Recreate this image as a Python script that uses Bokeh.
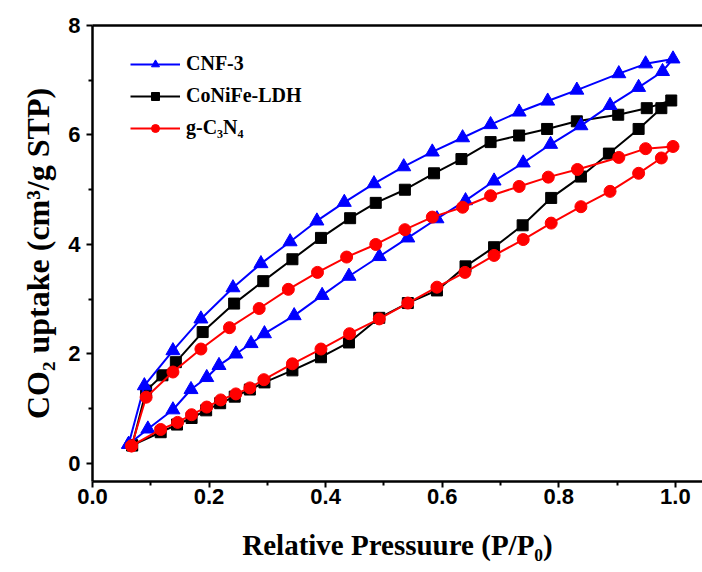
from bokeh.plotting import figure
from bokeh.models import (FixedTicker, Range1d, LinearAxis, Legend, LegendItem,
                          NumeralTickFormatter)
from bokeh.embed import file_html
from bokeh.resources import INLINE

# ---- data ----
cnf_ads_x = [0.062, 0.095, 0.138, 0.169, 0.196, 0.217, 0.246, 0.272, 0.295, 0.346, 0.394, 0.440,
             0.492, 0.541, 0.591, 0.640, 0.689, 0.739, 0.786, 0.838, 0.888, 0.937, 0.978, 0.996]
cnf_ads_y = [0.35, 0.63, 0.98, 1.35, 1.57, 1.79, 2.00, 2.19, 2.37, 2.70, 3.07, 3.42,
             3.78, 4.12, 4.47, 4.80, 5.16, 5.49, 5.83, 6.17, 6.54, 6.87, 7.16, 7.39]
cnf_des_x = [0.949, 0.903, 0.831, 0.781, 0.732, 0.683, 0.635, 0.583, 0.534, 0.483, 0.432,
             0.385, 0.339, 0.289, 0.241, 0.186, 0.138, 0.089]
cnf_des_y = [7.30, 7.12, 6.82, 6.62, 6.42, 6.19, 5.95, 5.69, 5.42, 5.11, 4.77,
             4.43, 4.05, 3.65, 3.21, 2.64, 2.06, 1.42]

ldh_ads_x = [0.068, 0.117, 0.145, 0.170, 0.195, 0.219, 0.244, 0.270, 0.295, 0.343, 0.392, 0.440,
             0.492, 0.541, 0.591, 0.640, 0.689, 0.738, 0.787, 0.838, 0.886, 0.937, 0.976, 0.993]
ldh_ads_y = [0.33, 0.57, 0.71, 0.83, 0.97, 1.10, 1.22, 1.35, 1.48, 1.70, 1.94, 2.21,
             2.66, 2.93, 3.16, 3.60, 3.95, 4.35, 4.85, 5.24, 5.66, 6.11, 6.49, 6.63]
ldh_des_x = [0.951, 0.902, 0.831, 0.780, 0.732, 0.683, 0.633, 0.586, 0.536, 0.486, 0.442,
             0.392, 0.343, 0.293, 0.243, 0.189, 0.143, 0.120, 0.092]
ldh_des_y = [6.49, 6.37, 6.25, 6.11, 5.99, 5.87, 5.56, 5.30, 5.00, 4.76, 4.48,
             4.12, 3.73, 3.33, 2.92, 2.40, 1.85, 1.61, 1.33]

gcn_ads_x = [0.067, 0.117, 0.146, 0.170, 0.196, 0.220, 0.246, 0.270, 0.294, 0.343, 0.392, 0.441,
             0.492, 0.541, 0.591, 0.639, 0.689, 0.739, 0.787, 0.838, 0.888, 0.937, 0.976, 0.996]
gcn_ads_y = [0.32, 0.62, 0.75, 0.89, 1.03, 1.16, 1.27, 1.38, 1.53, 1.82, 2.09, 2.37,
             2.64, 2.93, 3.22, 3.49, 3.80, 4.09, 4.39, 4.69, 4.97, 5.30, 5.58, 5.79]
gcn_des_x = [0.949, 0.903, 0.832, 0.782, 0.732, 0.683, 0.635, 0.583, 0.536, 0.486, 0.436,
             0.386, 0.336, 0.286, 0.235, 0.186, 0.138, 0.092]
gcn_des_y = [5.75, 5.59, 5.37, 5.23, 5.06, 4.89, 4.68, 4.50, 4.27, 4.00, 3.77,
             3.49, 3.18, 2.83, 2.48, 2.09, 1.67, 1.21]

series_names = ["CNF-3", "CoNiFe-LDH", "g-C\u2083N\u2084"]
x_ticks = [0.0, 0.2, 0.4, 0.6, 0.8, 1.0]
x_minor = [0.1, 0.3, 0.5, 0.7, 0.9]
y_ticks = [0, 2, 4, 6, 8]
y_minor = [1, 3, 5, 7]

# ---- figure ----
p = figure(width=702, height=570, output_backend="svg", toolbar_location=None,
           x_range=Range1d(0.0, 1.0466), y_range=Range1d(-0.33, 8.0),
           min_border_left=92, min_border_right=0, min_border_top=25, min_border_bottom=89)
p.outline_line_color = None
p.xgrid.grid_line_color = None
p.ygrid.grid_line_color = None
p.background_fill_color = "white"
p.border_fill_color = "white"

def loop(ax, ay, dx, dy):
    return ax + dx + [ax[0]], ay + dy + [ay[0]]

specs = [
    (ldh_ads_x, ldh_ads_y, ldh_des_x, ldh_des_y, "black", "square", 11, 1),
    (cnf_ads_x, cnf_ads_y, cnf_des_x, cnf_des_y, "#0000ff", "triangle", 14, 0),
    (gcn_ads_x, gcn_ads_y, gcn_des_x, gcn_des_y, "#ff0000", "circle", 12, 2),
]
rends = {}
for ax, ay, dx, dy, col, mk, sz, idx in specs:
    xs, ys = loop(ax, ay, dx, dy)
    l = p.line(xs, ys, line_color=col, line_width=2)
    s = p.scatter(xs, ys, marker=mk, size=sz, fill_color=col, line_color=col)
    rends[idx] = [l, s]

legend = Legend(items=[LegendItem(label=series_names[i], renderers=rends[i]) for i in range(3)],
                location=(38, 342), orientation="vertical")
legend.border_line_color = None
legend.background_fill_alpha = 0
legend.padding = 0
legend.margin = 0
legend.spacing = 9
legend.glyph_width = 50
legend.glyph_height = 20
legend.label_height = 20
legend.label_standoff = 6
legend.label_text_font = "Liberation Serif"
legend.label_text_font_style = "bold"
legend.label_text_font_size = "20px"
legend.label_text_color = "black"
p.add_layout(legend, "center")

# axes
for ax in (p.xaxis[0], p.yaxis[0]):
    ax.axis_line_width = 2.5
    ax.axis_line_color = "black"
    ax.major_tick_line_width = 2
    ax.minor_tick_line_width = 2
    ax.major_tick_in = 0
    ax.major_tick_out = 6
    ax.minor_tick_in = 0
    ax.minor_tick_out = 4
    ax.major_label_text_font = "Liberation Sans"
    ax.major_label_text_font_style = "bold"
    ax.major_label_text_font_size = "22px"
    ax.major_label_text_color = "black"
    ax.axis_label_text_font = "Liberation Serif"
    ax.axis_label_text_font_style = "bold"
    ax.axis_label_text_color = "black"

p.xaxis[0].ticker = FixedTicker(ticks=x_ticks, minor_ticks=x_minor)
p.xaxis[0].formatter = NumeralTickFormatter(format="0.0")
p.xaxis[0].major_label_standoff = 1
p.xaxis[0].axis_label = "Relative Pressuure (P/P\u2080)"
p.xaxis[0].axis_label_text_font_size = "29px"
p.xaxis[0].axis_label_standoff = 22

p.yaxis[0].ticker = FixedTicker(ticks=y_ticks, minor_ticks=y_minor)
p.yaxis[0].major_label_standoff = 6
p.yaxis[0].axis_label = "CO\u2082 uptake (cm\u00b3/g STP)"
p.yaxis[0].axis_label_text_font_size = "32px"
p.yaxis[0].axis_label_standoff = 9

top = LinearAxis(axis_line_width=2.5, axis_line_color="black",
                 major_tick_line_color=None, minor_tick_line_color=None,
                 major_label_text_font_size="0px", ticker=FixedTicker(ticks=[]))
p.add_layout(top, "above")

open("out.html", "w").write(file_html(p, INLINE))
